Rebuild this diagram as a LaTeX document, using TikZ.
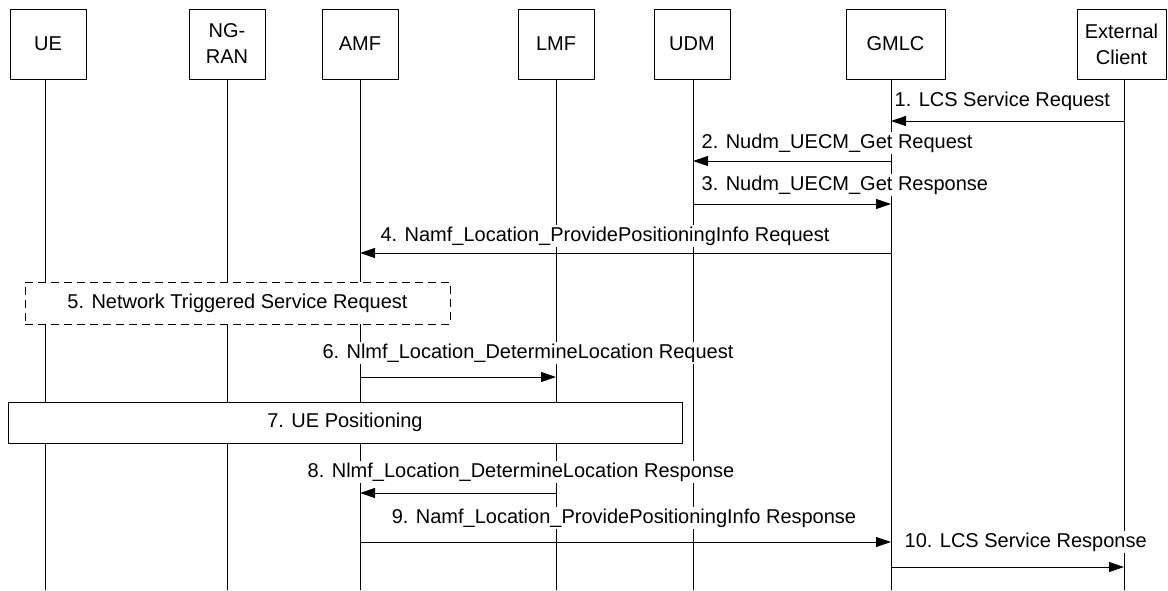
\documentclass[tikz,border=0pt]{standalone}
\usepackage{fontspec}
\setmainfont{Liberation Sans}
\usetikzlibrary{arrows.meta}
\begin{document}
\begin{tikzpicture}[x=1pt,y={(0pt,-1pt)},
  every node/.style={font=\fontsize{20}{26}\selectfont},
  entity/.style={draw, line width=1pt, minimum height=70pt, inner sep=0pt, align=center, fill=white},
  life/.style={line width=1pt},
  msg/.style={line width=1pt, -{Triangle[length=15pt,width=10pt]}},
  lbl/.style={fill=white, inner sep=1.5pt},
  proc/.style={draw, fill=white, line width=1pt, inner sep=0pt},
  dashproc/.style={proc, dash pattern=on 8pt off 5pt}]
\useasboundingbox (0,0) rectangle (1168,590);
% lifeline ends
\coordinate (ueE) at (45,590);
\coordinate (ranE) at (227,590);
\coordinate (amfE) at (360,590);
\coordinate (lmfE) at (556,590);
\coordinate (udmE) at (693,590);
\coordinate (gmlcE) at (891,590);
\coordinate (extE) at (1124,590);
% entity boxes
\node[entity, minimum width=76pt] (ue) at (48,44) {UE};
\node[entity, minimum width=76pt] (ran) at (227,44) {NG-\\RAN};
\node[entity, minimum width=76pt] (amf) at (360,44) {AMF};
\node[entity, minimum width=76pt] (lmf) at (556,44) {LMF};
\node[entity, minimum width=76pt] (udm) at (692,44) {UDM};
\node[entity, minimum width=99pt] (gmlc) at (895.5,44) {GMLC};
\node[entity, minimum width=89pt] (ext) at (1121.5,44) {External\\Client};
% lifelines
\draw[life] (ue.south -| ueE) -- (ueE);
\draw[life] (ran.south) -- (ranE);
\draw[life] (amf.south) -- (amfE);
\draw[life] (lmf.south) -- (lmfE);
\draw[life] (udm.south -| udmE) -- (udmE);
\draw[life] (gmlc.south -| gmlcE) -- (gmlcE);
\draw[life] (ext.south -| extE) -- (extE);
% process boxes
\node[dashproc, minimum width=425pt, minimum height=42pt] (p5) at (237.5,303) {5. Network Triggered Service Request};
\node[proc, minimum width=674pt, minimum height=41pt] (p7) at (345,422.5) {7. UE Positioning};
% messages
\draw[msg] (extE |- 0,121) -- (gmlcE |- 0,121);
\draw[msg] (gmlcE |- 0,161) -- (udmE |- 0,161);
\draw[msg] (udmE |- 0,204) -- (gmlcE |- 0,204);
\draw[msg] (gmlcE |- 0,253) -- (amfE |- 0,253);
\draw[msg] (amfE |- 0,377) -- (lmfE |- 0,377);
\draw[msg] (lmfE |- 0,493) -- (amfE |- 0,493);
\draw[msg] (amfE |- 0,542) -- (gmlcE |- 0,542);
\draw[msg] (gmlcE |- 0,567) -- (extE |- 0,567);
% labels
\node[lbl, anchor=west] (l1) at (893,101) {1. LCS Service Request};
\node[lbl, anchor=west] (l2) at (700,143) {2. Nudm\_UECM\_Get Request};
\node[lbl, anchor=west] (l3) at (700,185) {3. Nudm\_UECM\_Get Response};
\node[lbl] (l4) at (605,236) {4. Namf\_Location\_ProvidePositioningInfo Request};
\node[lbl] (l6) at (528,353) {6. Nlmf\_Location\_DetermineLocation Request};
\node[lbl] (l8) at (521,472) {8. Nlmf\_Location\_DetermineLocation Response};
\node[lbl] (l9) at (624,518) {9. Namf\_Location\_ProvidePositioningInfo Response};
\node[lbl, anchor=west] (l10) at (903,542) {10. LCS Service Response};
\end{tikzpicture}
\end{document}
